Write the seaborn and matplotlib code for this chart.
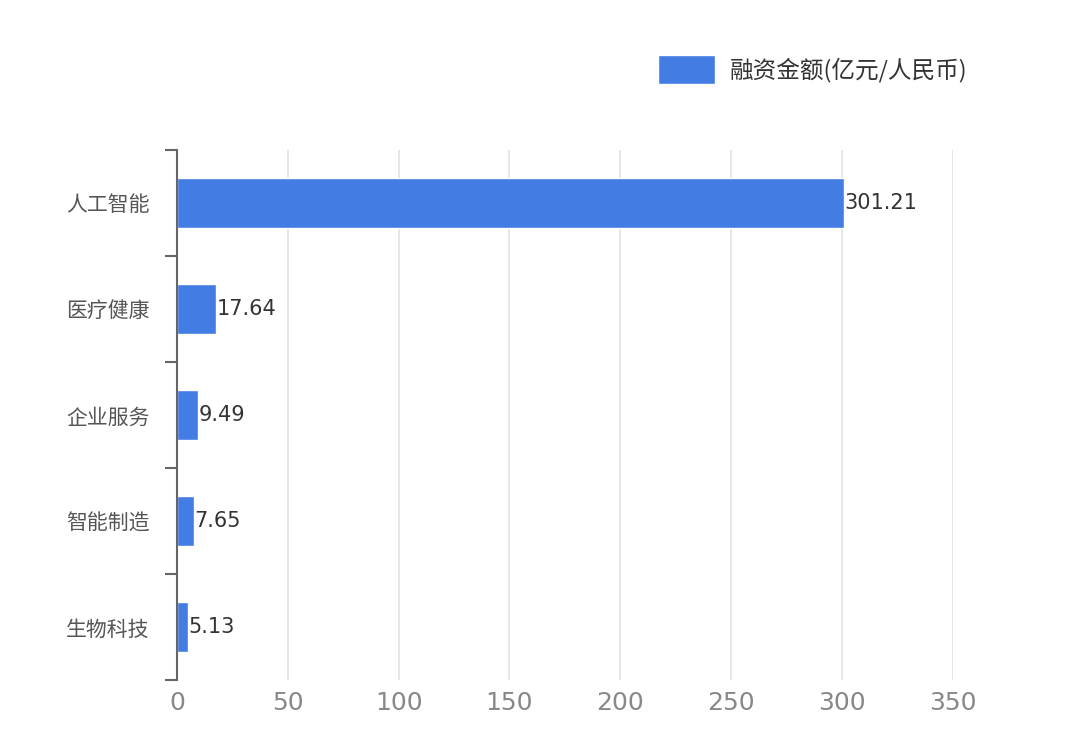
import matplotlib
matplotlib.use("Agg")
import matplotlib.pyplot as plt
import seaborn as sns
import numpy as np

categories = ["人工智能", "医疗健康", "企业服务", "智能制造", "生物科技"]
values = [301.21, 17.64, 9.49, 7.65, 5.13]
value_labels = ["301.21", "17.64", "9.49", "7.65", "5.13"]
xticks = [0, 50, 100, 150, 200, 250, 300, 350]
series_name = "融资金额(亿元/人民币)"

sns.set_style("white")
plt.rcParams['font.family'] = ['Noto Sans CJK SC', 'DejaVu Sans']
num_font = ['DejaVu Sans']

fig = plt.figure(figsize=(10.8, 7.53), dpi=100)
ax = fig.add_axes([0.164, 0.097, 0.718, 0.704])
color = "#437ce2"
sns.barplot(x=values, y=categories, color=color, width=0.47, ax=ax,
            label=series_name, orient="h", saturation=1)
for i, (v, t) in enumerate(zip(values, value_labels)):
    ax.text(v, i, t, va="center", ha="left", fontsize=15, color="#333333", family=num_font)

ax.set_xlim(0, 350)
ax.set_ylim(4.5, -0.5)
ax.set_xticks(xticks)
ax.set_xticklabels([str(x) for x in xticks], fontsize=18, color="#888888", family=num_font)
ax.tick_params(axis="x", length=0, pad=8)
ax.tick_params(axis="y", which="major", length=0, labelsize=15, labelcolor="#555555", pad=20)
ax.set_yticks(np.arange(-0.5, 5, 1), minor=True)
ax.tick_params(axis="y", which="minor", left=True, length=9, width=1.5, color="#666666", direction="out")
ax.xaxis.grid(True, color="#dde3e6", linewidth=1.2)
ax.set_axisbelow(True)
for s in ["top", "right", "bottom"]:
    ax.spines[s].set_visible(False)
ax.spines["left"].set_color("#666666")
ax.spines["left"].set_linewidth(1.5)
ax.set_xlabel("")
ax.set_ylabel("")

leg = ax.legend(loc="upper right", bbox_to_anchor=(0.915, 0.955), bbox_transform=fig.transFigure,
                frameon=False, fontsize=17, handlelength=2.4, handleheight=1.5,
                handletextpad=0.6)
for t in leg.get_texts():
    t.set_color("#333333")
fig.savefig("out.png", dpi=100)
